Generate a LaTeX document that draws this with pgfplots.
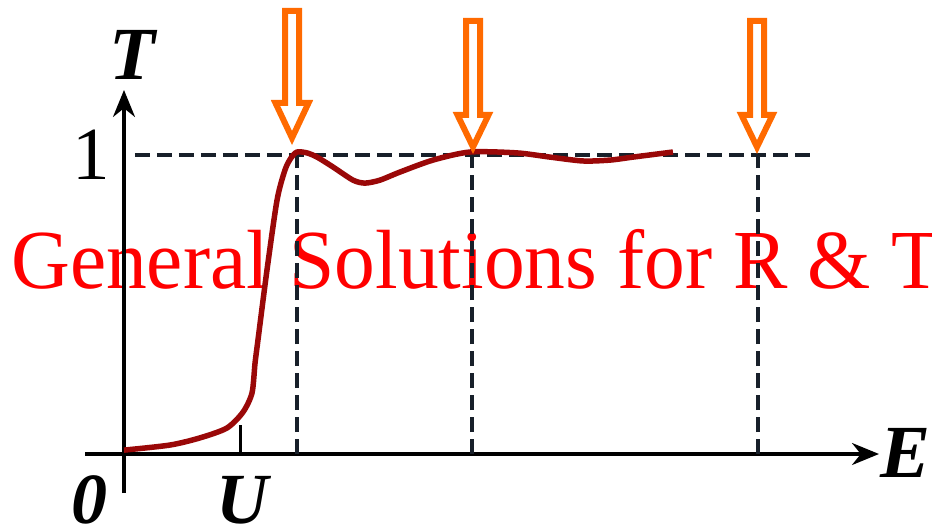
\documentclass[border=0pt]{standalone}
\usepackage{fontspec}
\setmainfont{Liberation Serif}
\newfontfamily\headfont[FakeStretch=0.97]{Liberation Serif}
\usepackage{pgfplots}
\pgfplotsset{compat=1.18}
\usetikzlibrary{arrows.meta}
\definecolor{curvered}{HTML}{9A0808}
\definecolor{annorange}{HTML}{FF6A00}
\definecolor{guide}{HTML}{18202A}

\begin{document}
\begin{tikzpicture}[x=1pt,y=1pt]
\useasboundingbox (0,0) rectangle (932,531);
\clip (0,0) rectangle (932,531);
% heading set behind the plot
\node[anchor=base west, inner sep=0, text=red, font=\headfont\fontsize{84}{90}\selectfont]
  at (11,243) {General Solutions for R \& T:};
\begin{axis}[
  at={(85pt,38pt)}, anchor=south west,
  scale only axis, width=794pt, height=403pt,
  xmin=-0.3333, xmax=6.453, ymin=-0.1304, ymax=1.2174,
  axis lines=middle,
  axis line style={line width=3.2pt, black, -{Stealth[length=27pt,width=22pt]}},
  xtick=\empty, ytick=\empty,
  clip=false,
]
% short mark at the barrier height U
\addplot[black, line width=3pt] coordinates {(1,0) (1,0.097)};
% guide lines at T = 1 and at the resonance energies
\addplot[guide, line width=3.2pt, dash pattern=on 15pt off 7pt] coordinates {(0.094,1) (5.906,1)};
\addplot[guide, line width=3.2pt, dash pattern=on 15pt off 7pt] coordinates {(1.479,0) (1.479,1)};
\addplot[guide, line width=3.2pt, dash pattern=on 15pt off 7pt] coordinates {(2.974,0) (2.974,1)};
\addplot[guide, line width=3.2pt, dash pattern=on 15pt off 7pt] coordinates {(5.419,0) (5.419,1)};
% transmission coefficient T(E)
\addplot[curvered, line width=5.5pt, smooth, tension=0.45] coordinates {
  (0,0.013) (0.393,0.030) (0.650,0.054) (0.880,0.087) (1.017,0.140)
  (1.094,0.204) (1.120,0.304) (1.145,0.381) (1.222,0.615) (1.308,0.849)
  (1.376,0.950) (1.427,0.990) (1.479,1.010) (1.564,1.007) (1.650,0.993)
  (1.786,0.960) (1.957,0.916) (2.060,0.906) (2.188,0.916) (2.359,0.943)
  (2.641,0.983) (2.957,1.010) (3.359,1.007) (3.641,0.993) (3.923,0.980)
  (4.154,0.983) (4.350,0.993) (4.692,1.010)
};
\end{axis}
% axis labels
\node[anchor=base, inner sep=0, font=\fontsize{75}{80}\selectfont\bfseries\itshape] at (132,451) {T};
\node[anchor=base, inner sep=0, font=\fontsize{75}{80}\selectfont] at (91,351) {1};
\node[anchor=base, inner sep=0, font=\fontsize{72}{78}\selectfont\bfseries\itshape] at (89,8) {0};
\node[anchor=base, inner sep=0, font=\fontsize{72}{78}\selectfont\bfseries\itshape] at (242,8) {U};
\node[anchor=base, inner sep=0, font=\fontsize{75}{80}\selectfont\bfseries\itshape] at (906,54) {E};
% hollow arrows marking full transmission
\foreach \cx/\yt/\yb/\ytip/\hw in {292/520/428/393/16.5, 473/510/416/384/15.5, 757/510/416/384/15.5}{
  \draw[annorange, line width=6pt, fill=white, line join=miter]
    (\cx-7,\yt) -- (\cx+7,\yt) -- (\cx+7,\yb) -- (\cx+\hw,\yb) -- (\cx,\ytip)
    -- (\cx-\hw,\yb) -- (\cx-7,\yb) -- cycle;
}
\end{tikzpicture}
\end{document}
